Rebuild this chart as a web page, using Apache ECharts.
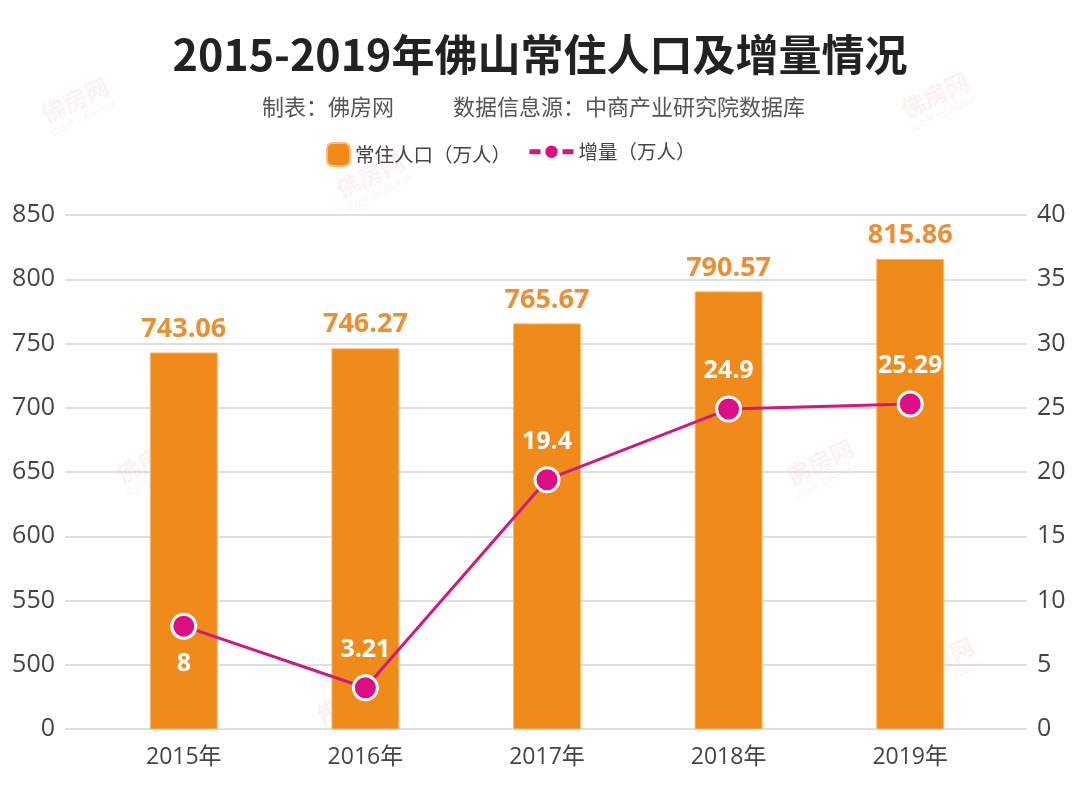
<!DOCTYPE html>
<html><head><meta charset="utf-8">
<script src="https://cdn.jsdelivr.net/npm/echarts@6/dist/echarts.min.js"></script>
<style>html,body{margin:0;padding:0;background:#fff}#c{width:1080px;height:797px}</style>
</head><body><div id="c"></div>
<script>
const categories = ['2015年','2016年','2017年','2018年','2019年'];
const population = [743.06, 746.27, 765.67, 790.57, 815.86];
const increase = [8, 3.21, 19.4, 24.9, 25.29];
const leftTicks = {min: 450, max: 850, interval: 50, bottomLabel: '0'};
const rightTicks = {min: 0, max: 40, interval: 5};

const FONT = "'Open Sans','Noto Sans CJK SC',sans-serif";
const CJK = "'Noto Sans CJK SC',sans-serif";
const chart = echarts.init(document.getElementById('c'));

const wm = [];
[[75,100],[370,175],[935,95],[545,390],[150,460],[820,462],[940,660],[350,700]].forEach(p=>{
  wm.push({type:'group', x:p[0], y:p[1], rotation:0.45, z:100, silent:true, children:[
    {type:'text', style:{text:'佛房网', x:0, y:0, textAlign:'center', textVerticalAlign:'middle', font:'bold 24px '+CJK, fill:'rgba(225,110,90,0.09)'}},
    {type:'text', style:{text:'公众号:fofzfoshan', x:0, y:20, textAlign:'center', textVerticalAlign:'middle', font:'9px '+CJK, fill:'rgba(225,110,90,0.09)'}}
  ]});
});

chart.setOption({
  backgroundColor:'#fff',
  animation:false,
  title:[
    {text:'2015-2019年佛山常住人口及增量情况', left:'center', top:28, textStyle:{fontFamily:CJK, fontWeight:'bold', fontSize:43, color:'#222'}},
  ],
  graphic: [
    {type:'text', left:262, top:96, style:{text:'制表：佛房网', font:'22px '+CJK, fill:'#555'}},
    {type:'text', left:453, top:96, style:{text:'数据信息源：中商产业研究院数据库', font:'22px '+CJK, fill:'#555'}},
  ].concat(wm),
  legend:[
    {data:['常住人口（万人）'], left:321, top:137, itemWidth:23, itemHeight:23, itemGap:8, textStyle:{fontFamily:CJK, fontSize:19.5, color:'#444'}},
    {data:['增量（万人）'], left:522, top:137, itemWidth:44, itemHeight:18, itemGap:8,
     lineStyle:{width:5, type:[11,22]},
     textStyle:{fontFamily:CJK, fontSize:19.5, color:'#444'}}
  ],
  grid:[
    {left:93, right:79, top:215, bottom:68},
    {left:65, right:53, top:215, bottom:68}
  ],
  xAxis:[
    {type:'category', gridIndex:0, data:categories, axisLine:{show:false}, axisTick:{show:false},
     axisLabel:{margin:17, fontFamily:FONT, fontSize:23, color:'#444'}},
    {type:'category', gridIndex:1, data:categories, show:false}
  ],
  yAxis:[
    {type:'value', gridIndex:0, min:leftTicks.min, max:leftTicks.max, interval:leftTicks.interval, show:false},
    {type:'value', gridIndex:0, min:rightTicks.min, max:rightTicks.max, interval:rightTicks.interval, show:false},
    {type:'value', gridIndex:1, position:'left', min:leftTicks.min, max:leftTicks.max, interval:leftTicks.interval,
     axisLine:{show:false}, axisTick:{show:false},
     axisLabel:{margin:10, fontFamily:FONT, fontSize:25, color:'#444', formatter:v=> v===leftTicks.min ? leftTicks.bottomLabel : String(v)},
     splitLine:{lineStyle:{color:'#d4d4d4', width:1.5}}},
    {type:'value', gridIndex:1, position:'right', min:rightTicks.min, max:rightTicks.max, interval:rightTicks.interval,
     axisLine:{show:false}, axisTick:{show:false},
     axisLabel:{margin:10, fontFamily:FONT, fontSize:25, color:'#444'}, splitLine:{show:false}}
  ],
  series:[
    {name:'常住人口（万人）', type:'bar', xAxisIndex:0, yAxisIndex:0, data:population, barWidth:68,
     itemStyle:{color:'#F08A1A', borderColor:'#F6BE7A', borderWidth:1},
     label:{show:true, position:'top', distance:10, fontFamily:FONT, fontWeight:'bold', fontSize:27, color:'#EB8F35', formatter:p=>p.value.toFixed(2)}},
    {name:'增量（万人）', type:'line', xAxisIndex:0, yAxisIndex:1, data:increase.map((v,i)=>({value:v, label:{position: i===0?'bottom':'top'}})),
     symbol:'circle', symbolSize:24, z:5,
     lineStyle:{color:'#CC1A80', width:3},
     itemStyle:{color:'#DD0E85', borderColor:'#fff', borderWidth:3},
     label:{show:true, distance:12, fontFamily:FONT, fontWeight:'bold', fontSize:25, color:'#fff'}}
  ]
});
</script></body></html>
